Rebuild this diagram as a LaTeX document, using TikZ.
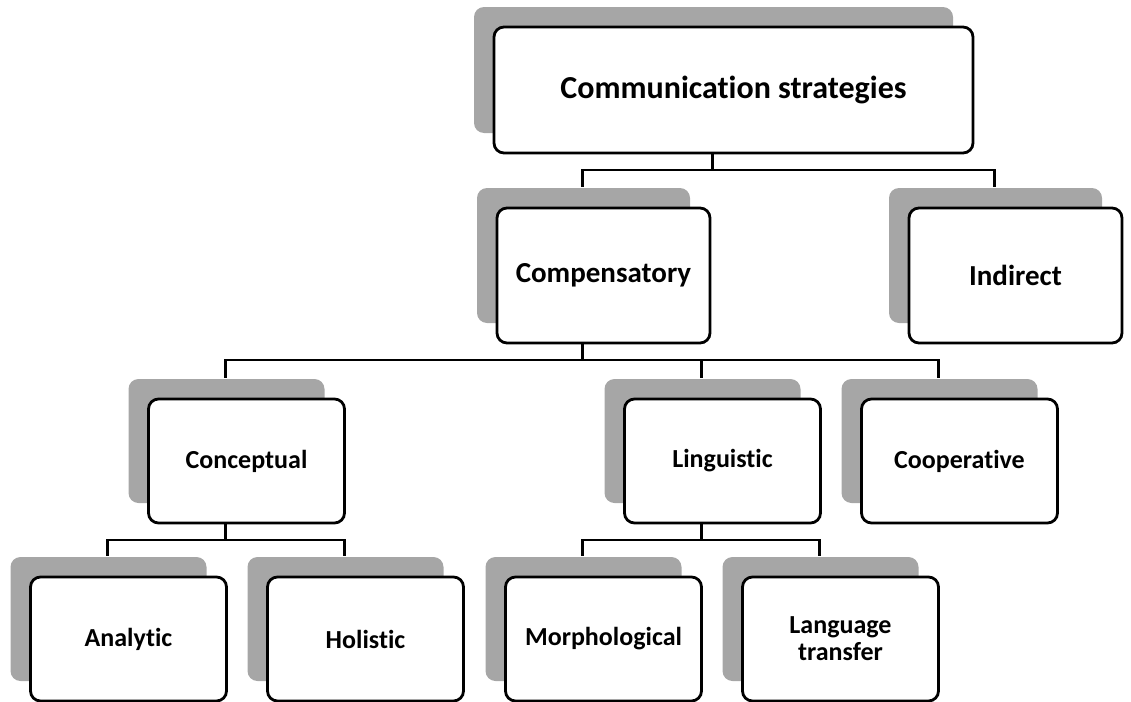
\documentclass[tikz,border=0pt]{standalone}
\usepackage{fontspec}
\setmainfont{Carlito}[Ligatures={NoCommon}]
\usepackage{xcolor}
\usepackage{tikz}
\usetikzlibrary{positioning,shadows}
\definecolor{shadowgrey}{HTML}{A6A6A6}

\begin{document}
\begin{tikzpicture}[font=\bfseries, node distance=20.5pt]
\tikzset{box/.style={draw=black, fill=white, line width=1.4pt, rounded corners=5pt, align=center, outer sep=0pt, inner sep=2pt, minimum width=98pt, minimum height=62pt, font=\bfseries\fontsize{13}{13.5}\selectfont, general shadow={draw=none, fill=shadowgrey, shadow xshift=-10pt, shadow yshift=10pt}}, head/.style={box, minimum width=239.5pt, minimum height=63pt, font=\bfseries\fontsize{16}{19}\selectfont}, main/.style={box, minimum width=106.5pt, minimum height=67.5pt, font=\bfseries\fontsize{14.5}{17}\selectfont}, link/.style={draw=black, line width=1.1pt}}
\useasboundingbox (0,0) rectangle (565.5pt,-351pt);
\node[head] (root) at (366.75pt,-45pt) {Communication strategies};
\node[main, below=27.5pt of root, xshift=-65pt] (comp) {Compensatory};
\node[main, right=99.5pt of comp] (indir) {Indirect};
\node[box, below=28pt of comp, xshift=-178.5pt] (concept) {Conceptual};
\node[box, right=140pt of concept] (ling) {Linguistic};
\node[box, right=of ling] (coop) {Cooperative};
\node[box, below=27pt of concept, xshift=-59pt] (analytic) {Analytic};
\node[box, right=of analytic] (holistic) {Holistic};
\node[box, below=27pt of ling, xshift=-59.5pt] (morph) {Morphological};
\node[box, right=of morph] (transfer) {Language\\transfer};
% tree links: parent -> bar -> child shadow
\draw[link] ([xshift=-10.5pt]root.south) -- ++(0,-8.5pt) -| ([xshift=-10.5pt,yshift=10.5pt]comp.north); \draw[link] ([xshift=-10.5pt]root.south) -- ++(0,-8.5pt) -| ([xshift=-10.5pt,yshift=10.5pt]indir.north);
\draw[link] ([xshift=-10.5pt]comp.south) -- ++(0,-8.5pt) -| ([xshift=-10.5pt,yshift=10.5pt]concept.north); \draw[link] ([xshift=-10.5pt]comp.south) -- ++(0,-8.5pt) -| ([xshift=-10.5pt,yshift=10.5pt]ling.north); \draw[link] ([xshift=-10.5pt]comp.south) -- ++(0,-8.5pt) -| ([xshift=-10.5pt,yshift=10.5pt]coop.north);
\draw[link] ([xshift=-10.5pt]concept.south) -- ++(0,-8.5pt) -| ([xshift=-10.5pt,yshift=10.5pt]analytic.north); \draw[link] ([xshift=-10.5pt]concept.south) -- ++(0,-8.5pt) -| ([xshift=-10.5pt,yshift=10.5pt]holistic.north);
\draw[link] ([xshift=-10.5pt]ling.south) -- ++(0,-8.5pt) -| ([xshift=-10.5pt,yshift=10.5pt]morph.north); \draw[link] ([xshift=-10.5pt]ling.south) -- ++(0,-8.5pt) -| ([xshift=-10.5pt,yshift=10.5pt]transfer.north);
\end{tikzpicture}
\end{document}
